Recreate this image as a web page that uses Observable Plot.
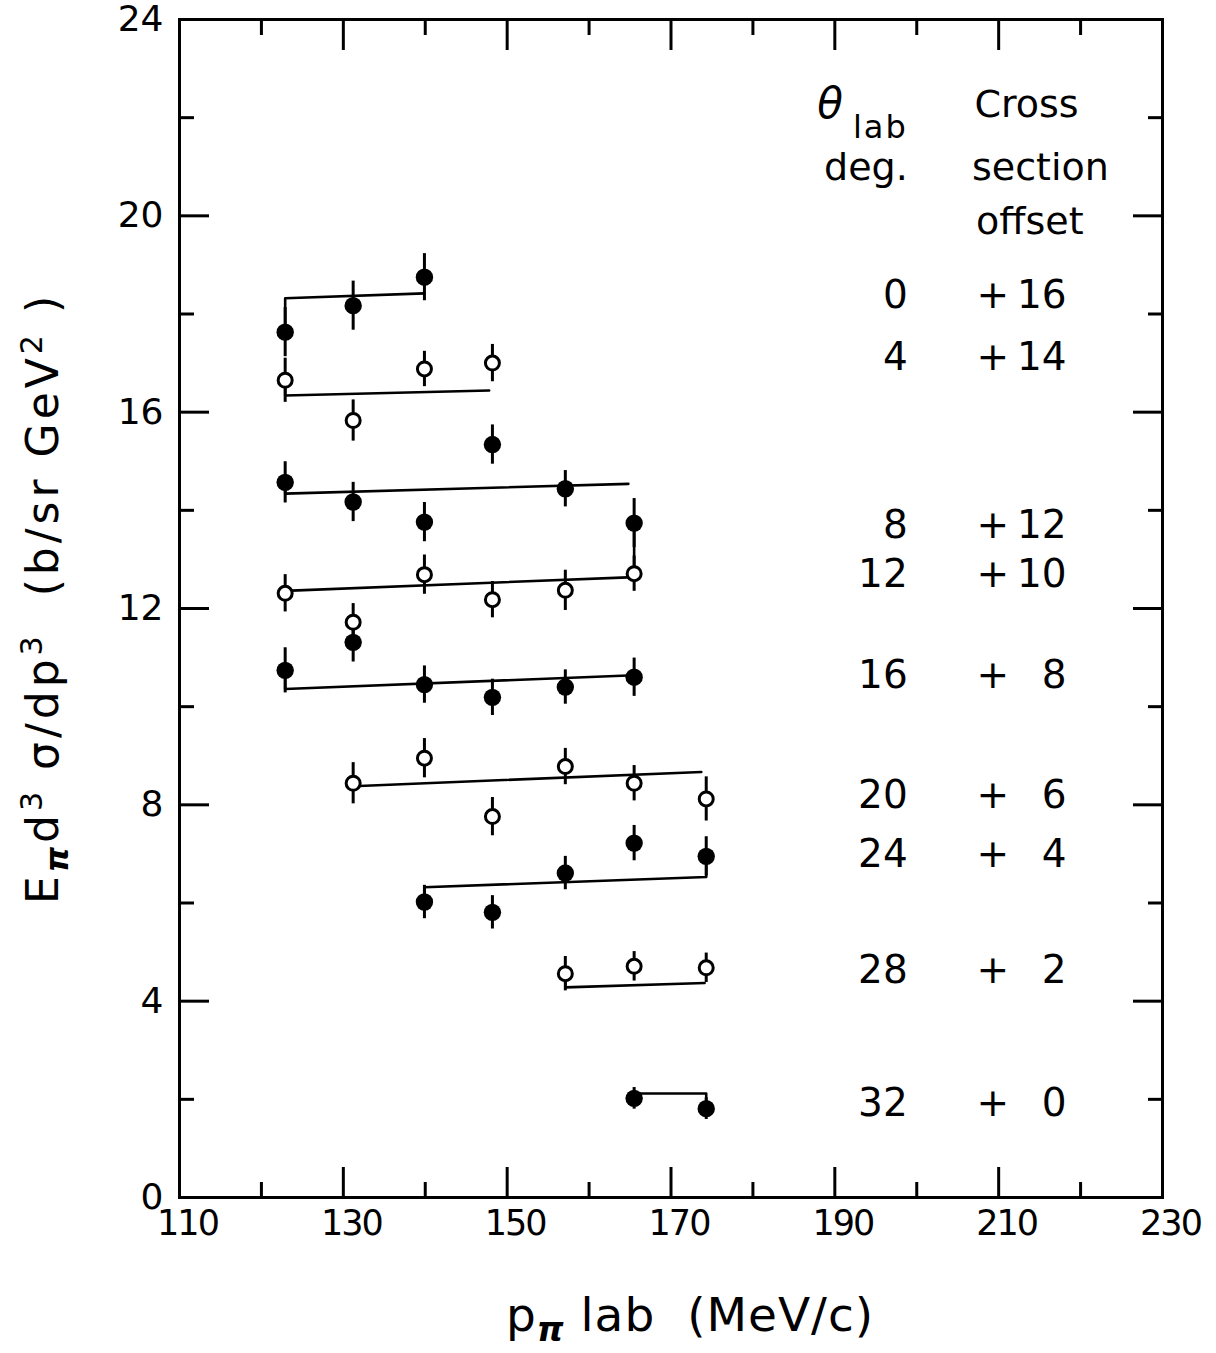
<!DOCTYPE html>
<html><head><meta charset="utf-8">
<script src="https://cdn.jsdelivr.net/npm/d3@7"></script>
<script src="https://cdn.jsdelivr.net/npm/@observablehq/plot@0.6"></script>
<style>body{margin:0;background:#fff}</style>
</head><body><div id="chart"></div>
<script>
// ---- data (values already include the cross-section offset) ----
const momenta = [122.9, 131.2, 139.9, 148.2, 157.1, 165.5, 174.3]; // p_pi lab (MeV/c)
const angles  = [0, 4, 8, 12, 16, 20, 24, 28, 32];                  // theta_lab (deg)
const offsets = [16, 14, 12, 10, 8, 6, 4, 2, 0];                    // cross section offset
const filledSeries = [true, false, true, false, true, false, true, false, true];

const vals0  = [17.63, 18.17, 18.75, null, null, null, null];
const vals4  = [16.65, 15.83, 16.88, 17.00, null, null, null];
const vals8  = [14.57, 14.17, 13.76, 15.34, 14.44, 13.74, null];
const vals12 = [12.31, 11.72, 12.69, 12.18, 12.37, 12.71, null];
const vals16 = [10.74, 11.31, 10.45, 10.19, 10.40, 10.60, null];
const vals20 = [null, 8.44, 8.95, 7.76, 8.78, 8.44, 8.12];
const vals24 = [null, null, 6.02, 5.81, 6.61, 7.22, 6.95];
const vals28 = [null, null, null, null, 4.56, 4.71, 4.68];
const vals32 = [null, null, null, null, null, 2.02, 1.81];

const errs0  = [0.50, 0.50, 0.48, null, null, null, null];
const errs4  = [0.45, 0.42, 0.36, 0.38, null, null, null];
const errs8  = [0.42, 0.40, 0.40, 0.40, 0.37, 0.50, null];
const errs12 = [0.38, 0.38, 0.40, 0.37, 0.41, 0.36, null];
const errs16 = [0.46, 0.40, 0.38, 0.37, 0.35, 0.39, null];
const errs20 = [null, 0.42, 0.40, 0.39, 0.37, 0.36, 0.45];
const errs24 = [null, null, 0.34, 0.34, 0.34, 0.36, 0.40];
const errs28 = [null, null, null, null, 0.35, 0.30, 0.30];
const errs32 = [null, null, null, null, null, 0.22, 0.22];

// fitted lines, [p, value] vertices
const fit0  = [[122.9, 17.63], [122.9, 18.32], [139.9, 18.42]];
const fit4  = [[122.9, 16.65], [122.9, 16.34], [147.8, 16.44]];
const fit8  = [[122.9, 14.57], [122.9, 14.34], [164.8, 14.54]];
const fit12 = [[122.9, 12.36], [165.5, 12.64], [165.5, 13.74]];
const fit16 = [[122.9, 10.74], [122.9, 10.36], [165.5, 10.64]];
const fit20 = [[131.2, 8.38], [173.7, 8.67]];
const fit24 = [[139.9, 6.02], [139.9, 6.32], [174.3, 6.53], [174.3, 6.95]];
const fit28 = [[157.1, 4.56], [157.1, 4.28], [174.1, 4.37]];
const fit32 = [[165.5, 2.12], [174.3, 2.12], [174.3, 1.81]];

// level of each row of the right-hand annotation table
const labelLevels = [18.38, 17.11, 13.69, 12.69, 10.64, 8.19, 6.99, 4.63, 1.91];
const headerLines = ["Cross", "section", "offset"];

const xMajor = [110, 130, 150, 170, 190, 210, 230];
const xMinor = [120, 140, 160, 180, 200, 220];
const yMajor = [0, 4, 8, 12, 16, 20, 24];
const yMinor = [2, 6, 10, 14, 18, 22];

// ---- build tables ----
const seriesVals = [vals0, vals4, vals8, vals12, vals16, vals20, vals24, vals28, vals32];
const seriesErrs = [errs0, errs4, errs8, errs12, errs16, errs20, errs24, errs28, errs32];
const seriesFits = [fit0, fit4, fit8, fit12, fit16, fit20, fit24, fit28, fit32];

const points = [];
seriesVals.forEach((vals, s) => vals.forEach((v, i) => {
  if (v != null) points.push({p: momenta[i], v, e: seriesErrs[s][i], filled: filledSeries[s], angle: angles[s]});
}));
const fitRows = seriesFits.flatMap((f, s) => f.map(([p, v]) => ({p, v, angle: angles[s]})));
const labelRows = angles.map((a, i) => ({angle: String(a), off: String(offsets[i]), level: labelLevels[i]}));

const FONT = "DejaVu Sans";
const colAngle = 198.9, colPlus = 209.3, colOff = 218.3;
const headX = [213.4, 215.1, 213.8], headY = [22.27, 20.97, 19.87];

const svg = Plot.plot({
  width: 1216, height: 1353,
  marginLeft: 179, marginRight: 54, marginTop: 19, marginBottom: 156,
  x: {domain: [110, 230]},
  y: {domain: [0, 24]},
  style: {fontFamily: FONT, background: "white", color: "black"},
  marks: [
    Plot.frame({strokeWidth: 3}),
    // inward ticks on all four sides
    Plot.axisX({ticks: xMajor, anchor: "bottom", tickSize: -30, strokeWidth: 3, fill: "none", label: null}),
    Plot.axisX({ticks: xMinor, anchor: "bottom", tickSize: -15, strokeWidth: 3, fill: "none", label: null}),
    Plot.axisX({ticks: xMajor, anchor: "top", tickSize: -30, strokeWidth: 3, fill: "none", label: null}),
    Plot.axisX({ticks: xMinor, anchor: "top", tickSize: -15, strokeWidth: 3, fill: "none", label: null}),
    Plot.axisY({ticks: yMajor, anchor: "left", tickSize: -30, strokeWidth: 3, fill: "none", label: null}),
    Plot.axisY({ticks: yMinor, anchor: "left", tickSize: -15, strokeWidth: 3, fill: "none", label: null}),
    Plot.axisY({ticks: yMajor, anchor: "right", tickSize: -30, strokeWidth: 3, fill: "none", label: null}),
    Plot.axisY({ticks: yMinor, anchor: "right", tickSize: -15, strokeWidth: 3, fill: "none", label: null}),
    // tick labels
    Plot.axisX({ticks: xMajor, anchor: "bottom", tickSize: 0, tickPadding: 13, dx: 8, fontSize: 35, tickFormat: d => String(d), label: null}),
    Plot.axisY({ticks: yMajor, anchor: "left", tickSize: 0, tickPadding: 16, fontSize: 36, tickFormat: d => String(d), label: null}),
    // data
    Plot.line(fitRows, {x: "p", y: "v", z: "angle", stroke: "black", strokeWidth: 2.6, strokeLinejoin: "round"}),
    Plot.ruleX(points, {x: "p", y1: d => d.v - d.e, y2: d => d.v + d.e, stroke: "black", strokeWidth: 3}),
    Plot.dot(points.filter(d => d.filled), {x: "p", y: "v", r: 8.7, fill: "black", stroke: "none"}),
    Plot.dot(points.filter(d => !d.filled), {x: "p", y: "v", r: 7, fill: "white", stroke: "black", strokeWidth: 3}),
    // annotation table
    Plot.text(labelRows, {x: () => colAngle, y: "level", text: "angle", textAnchor: "end", fontSize: 39}),
    Plot.text(labelRows, {x: () => colPlus, y: "level", text: () => "+", fontSize: 39}),
    Plot.text(labelRows, {x: () => colOff, y: "level", text: "off", textAnchor: "end", fontSize: 39}),
    Plot.text(headerLines, {x: (d, i) => headX[i], y: (d, i) => headY[i], text: d => d, fontSize: 38}),
    Plot.text(["θ"], {x: () => 191.0, y: () => 22.27, text: d => d, textAnchor: "end", fontStyle: "italic", fontSize: 42}),
    Plot.text(["lab"], {x: () => colAngle, y: () => 21.8, text: d => d, textAnchor: "end", fontSize: 32}),
    Plot.text(["deg."], {x: () => colAngle, y: () => 20.97, text: d => d, textAnchor: "end", fontSize: 38})
  ]
});

const sel = d3.select(svg);
// narrower digit spacing for x tick labels, slightly wider lettering for "lab"
sel.selectAll('g[aria-label="x-axis tick label"] text').attr("letter-spacing", -2);
sel.selectAll('g[aria-label="text"] text').filter(function() { return this.textContent === "lab"; }).attr("letter-spacing", 2);

// axis titles with sub/superscripts
const xl = sel.append("text")
  .attr("x", 690).attr("y", 1331)
  .attr("text-anchor", "middle").attr("font-family", FONT).attr("font-size", 47)
  .attr("fill", "black").style("white-space", "pre").attr("letter-spacing", 1);
xl.append("tspan").text("p");
xl.append("tspan").attr("font-size", 34).attr("font-style", "italic").attr("font-weight", "bold").attr("dy", 10).text("π");
xl.append("tspan").attr("dy", -10).text(" lab  (MeV/c)");

const yl = sel.append("text")
  .attr("transform", "translate(58,598) rotate(-90)")
  .attr("text-anchor", "middle").attr("font-family", FONT).attr("font-size", 44)
  .attr("fill", "black").style("white-space", "pre").attr("letter-spacing", 4);
yl.append("tspan").text("E");
yl.append("tspan").attr("font-size", 32).attr("font-style", "italic").attr("font-weight", "bold").attr("dy", 10).text("π");
yl.append("tspan").attr("dy", -10).text("d");
yl.append("tspan").attr("font-size", 30).attr("dy", -16).text("3");
yl.append("tspan").attr("dy", 16).text(" σ/dp");
yl.append("tspan").attr("font-size", 30).attr("dy", -16).text("3");
yl.append("tspan").attr("dy", 16).text("  (b/sr GeV");
yl.append("tspan").attr("font-size", 30).attr("dy", -16).text("2");
yl.append("tspan").attr("dy", 16).text(" )");

document.getElementById("chart").appendChild(svg);
</script>
</body></html>
